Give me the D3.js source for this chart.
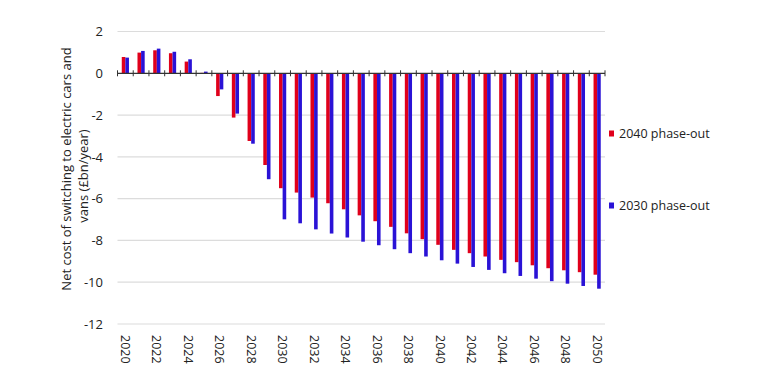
<!DOCTYPE html>
<html>
<head>
<meta charset="utf-8">
<script src="https://cdn.jsdelivr.net/npm/d3@7"></script>
<style>
  html, body { margin: 0; padding: 0; background: #fff; }
  svg { display: block; font-family: "Open Sans", "Noto Sans", sans-serif; }
</style>
</head>
<body>
<svg id="chart" width="759" height="379"></svg>
<script>
const years = d3.range(2020, 2051);
const phaseOut2040 = [0.78, 0.99, 1.10, 0.96, 0.56, 0.02, -1.09, -2.12, -3.24, -4.39,
  -5.50, -5.71, -5.95, -6.22, -6.51, -6.80, -7.08, -7.35, -7.66, -7.94,
  -8.21, -8.45, -8.61, -8.77, -8.93, -9.04, -9.19, -9.33, -9.43, -9.52, -9.64];
const phaseOut2030 = [0.75, 1.07, 1.18, 1.03, 0.67, 0.08, -0.77, -1.93, -3.37, -5.07,
  -6.99, -7.18, -7.47, -7.67, -7.86, -8.06, -8.23, -8.42, -8.61, -8.77,
  -8.95, -9.11, -9.27, -9.41, -9.57, -9.70, -9.83, -9.95, -10.07, -10.18, -10.31];
const seriesNames = ["2040 phase-out", "2030 phase-out"];
const seriesColors = ["#e0001b", "#2a12d6"];
const yTicks = [2, 0, -2, -4, -6, -8, -10, -12];
const xTickLabels = d3.range(2020, 2051, 2);
const yTitle = ["Net cost of switching to electric cars and", "vans (£bn/year)"];

const svg = d3.select("#chart");
const x = d3.scaleBand().domain(years).range([117.5, 605]).padding(0);
const y = d3.scaleLinear().domain([-12, 2]).range([324, 31.5]);
const barW = 3.6;

// gridlines
svg.append("g").selectAll("line").data(yTicks.filter(d => d !== 0)).join("line")
  .attr("x1", x.range()[0]).attr("x2", x.range()[1])
  .attr("y1", d => y(d)).attr("y2", d => y(d))
  .attr("stroke", "#dcdcdc").attr("stroke-width", 1.2);

// y axis labels
const yAxis = d3.axisLeft(y).tickValues(yTicks).tickSize(0).tickPadding(0).tickFormat(d => d < 0 ? "-" + Math.abs(d) : d);
const gy = svg.append("g").attr("transform", "translate(103,0)").call(yAxis);
gy.select(".domain").remove();
gy.selectAll("text").attr("font-size", 13).attr("fill", "#222").attr("font-family", "Open Sans, sans-serif");

// bars
const series = [phaseOut2040, phaseOut2030];
series.forEach((vals, si) => {
  svg.append("g").selectAll("rect").data(years).join("rect")
    .attr("x", (d) => x(d) + x.bandwidth() / 2 - barW + si * barW)
    .attr("width", barW)
    .attr("y", (d, i) => y(Math.max(0, vals[i])))
    .attr("height", (d, i) => Math.abs(y(vals[i]) - y(0)))
    .attr("fill", seriesColors[si]);
});

// zero axis line with ticks at band boundaries
const zero = y(0);
svg.append("line").attr("x1", x.range()[0]).attr("x2", x.range()[1])
  .attr("y1", zero).attr("y2", zero).attr("stroke", "#333").attr("stroke-width", 1.2);
const boundaries = years.map(d => x(d)).concat([x.range()[1]]);
svg.append("g").selectAll("line").data(boundaries).join("line")
  .attr("x1", d => d).attr("x2", d => d)
  .attr("y1", zero - 3).attr("y2", zero + 3)
  .attr("stroke", "#333").attr("stroke-width", 1);

// x labels rotated
svg.append("g").selectAll("text").data(xTickLabels).join("text")
  .attr("transform", d => `translate(${x(d) + x.bandwidth() / 2},335) rotate(90)`)
  .attr("dy", "0.35em")
  .attr("font-size", 12.5).attr("fill", "#222")
  .text(d => d);

// y title
const titleCenters = [169, 176];
yTitle.forEach((line, i) => {
  svg.append("text")
    .attr("transform", `translate(${71 + i * 17},${titleCenters[i]}) rotate(-90)`)
    .attr("text-anchor", "middle").attr("font-size", 13).attr("fill", "#222")
    .text(line);
});

// legend
const legY = [134, 206];
seriesNames.forEach((n, i) => {
  const g = svg.append("g");
  g.append("rect").attr("x", 609).attr("y", legY[i] - 3.5).attr("width", 5).attr("height", 6).attr("fill", seriesColors[i]);
  g.append("text").attr("x", 619).attr("y", legY[i]).attr("dy", "0.35em")
    .attr("font-size", 12.5).attr("fill", "#222").text(n);
});
</script>
</body>
</html>
